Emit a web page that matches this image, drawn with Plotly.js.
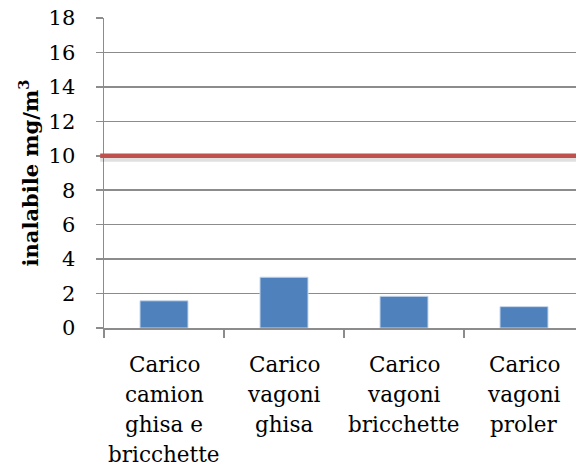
<!DOCTYPE html>
<html>
<head>
<meta charset="utf-8">
<script src="https://cdn.plot.ly/plotly-3.0.1.min.js"></script>
<style>
html,body{margin:0;padding:0;background:#fff;overflow:hidden;width:576px;height:469px;}
#chart{width:600px;height:469px;}
</style>
</head>
<body>
<div id="chart"></div>
<script>
const categories = ['Carico camion ghisa e bricchette', 'Carico vagoni ghisa', 'Carico vagoni bricchette', 'Carico vagoni proler'];
const labelLines = [
  ['Carico', 'camion', 'ghisa e', 'bricchette'],
  ['Carico', 'vagoni', 'ghisa'],
  ['Carico', 'vagoni', 'bricchette'],
  ['Carico', 'vagoni', 'proler']
];
const values = [1.58, 2.95, 1.84, 1.24];
const limitValue = 10;
const yTickVals = [0, 2, 4, 6, 8, 10, 12, 14, 16, 18];
const yTitle = 'inalabile mg/m<sup>3</sup>';

const serif = 'DejaVu Serif, Liberation Serif, serif';
const grey = '#8c8c8c';

const annotations = [];
labelLines.forEach((lines, ci) => {
  lines.forEach((ln, li) => {
    annotations.push({
      x: categories[ci], xref: 'x', y: 0, yref: 'paper',
      text: ln, showarrow: false, xanchor: 'center', yanchor: 'middle',
      yshift: -(36 + li * 30.3),
      font: {family: serif, size: 21.5, color: '#000'}
    });
  });
});

const data = [{
  type: 'bar',
  x: categories,
  y: values,
  marker: {color: '#4F81BD', line: {color: '#c6d5ea', width: 1}},
  hoverinfo: 'skip'
}];

const layout = {
  width: 600, height: 469,
  margin: {l: 104, r: 16, t: 18, b: 141},
  paper_bgcolor: '#fff', plot_bgcolor: '#fff',
  showlegend: false,
  bargap: 0.6,
  xaxis: {
    type: 'category', showticklabels: false,
    tickson: 'boundaries', ticks: 'outside', ticklen: 8, tickcolor: grey, tickwidth: 1.5,
    showline: true, linecolor: grey, linewidth: 1.5,
    showgrid: false, zeroline: false, range: [-0.5, 3.5]
  },
  yaxis: {
    range: [0, 18], tickvals: yTickVals, ticks: 'outside', ticklen: 7, tickcolor: grey, tickwidth: 1.5,
    showline: true, linecolor: grey, linewidth: 1.5,
    showgrid: true, gridcolor: grey, gridwidth: 1.5, zeroline: false,
    ticklabelstandoff: 16,
    tickfont: {family: serif, size: 21, color: '#000'},
    title: {text: yTitle, standoff: 4, font: {family: serif, size: 21, color: '#000', weight: 'bold'}}
  },
  annotations: annotations,
  shapes: [
    {type: 'line', xref: 'paper', x0: -0.008, x1: 1, yref: 'y', ysizemode: 'pixel', yanchor: limitValue, y0: -4, y1: -4,
     line: {color: 'rgba(0,0,0,0.12)', width: 4}, layer: 'above'},
    {type: 'line', xref: 'paper', x0: -0.008, x1: 1, yref: 'y', y0: limitValue, y1: limitValue,
     line: {color: '#C0504D', width: 4.5}, layer: 'above'}
  ]
};

Plotly.newPlot('chart', data, layout, {displayModeBar: false, staticPlot: true});
</script>
</body>
</html>
